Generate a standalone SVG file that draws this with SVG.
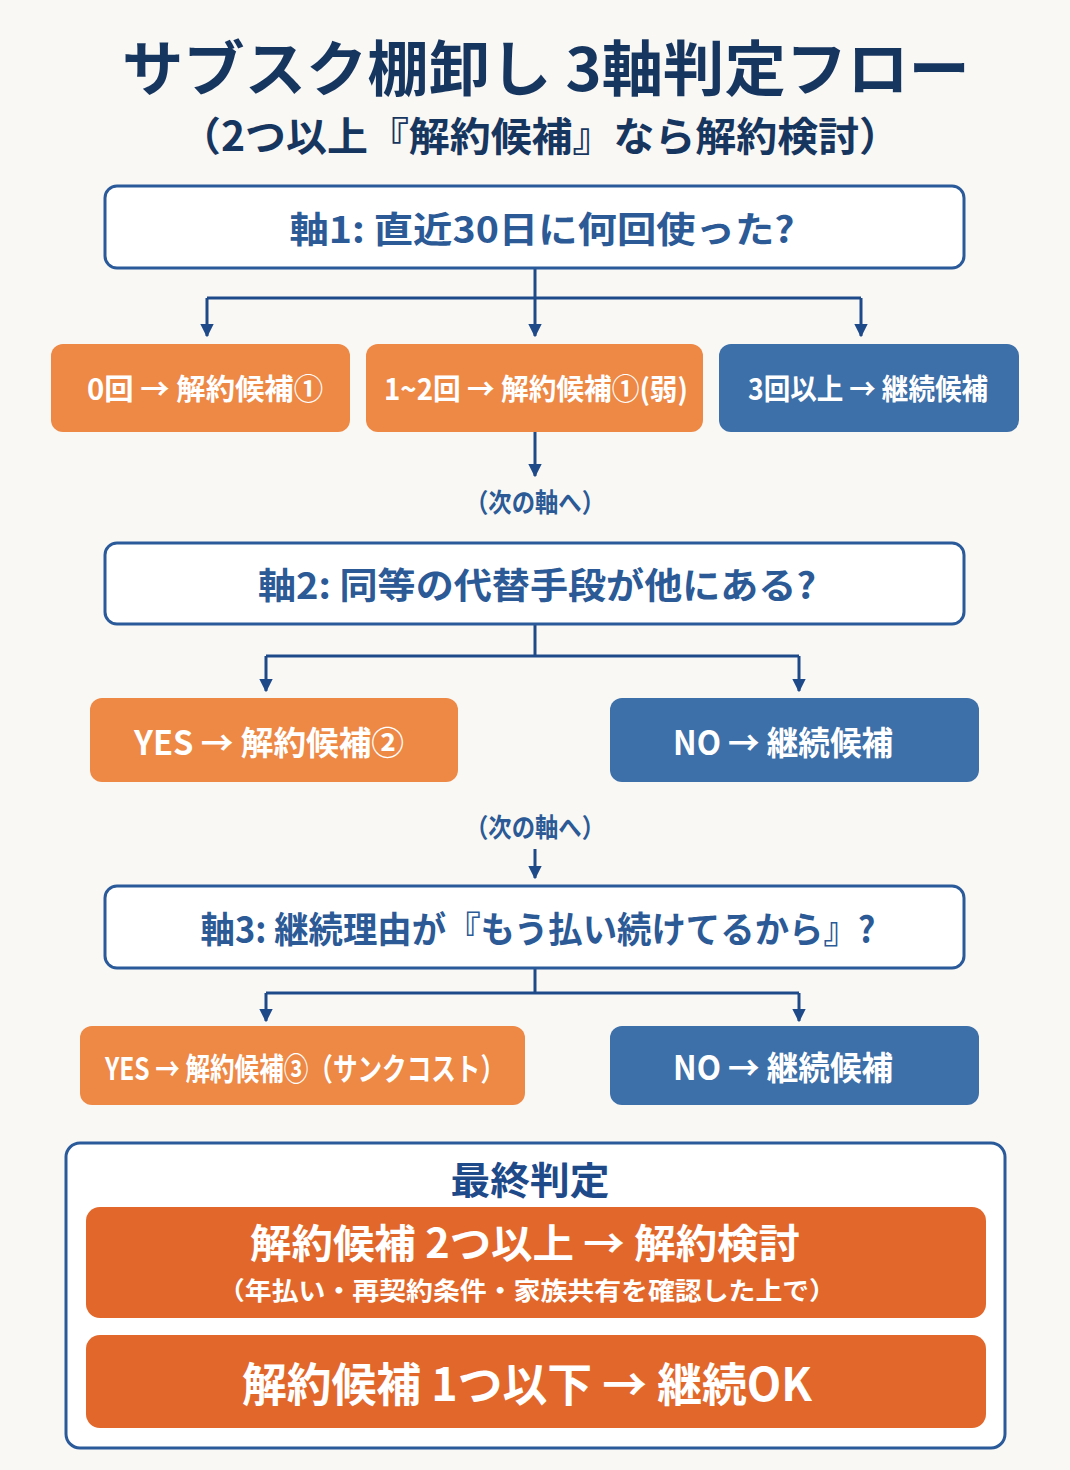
<svg xmlns="http://www.w3.org/2000/svg" width="1070" height="1470" viewBox="0 0 1070 1470">
<defs>
<marker id="ah" viewBox="0 0 10 10" refX="9" refY="5" markerWidth="4.5" markerHeight="4.5" markerUnits="strokeWidth" orient="auto">
<path d="M0,0 L10,5 L0,10 Z" fill="#1e4a8a"/>
</marker>
<style>
text{font-family:"Noto Sans CJK JP","Noto Sans",sans-serif;font-weight:bold;text-anchor:middle;dominant-baseline:central}
.title{fill:#17365f;font-size:60px}
.sub{fill:#17365f;font-size:40px}
.q{fill:#fff;stroke:#2a5a9a;stroke-width:3}
.qt{fill:#2b5a96;font-size:36px}
.or{fill:#ee8845}
.bl{fill:#3d6fa8}
.fo{fill:#e2672a}
.wt{fill:#fff}
.nx{fill:#2b5a96;font-size:26px}
.con path{fill:none;stroke:#1e4a8a;stroke-width:3}
</style>
</defs>
<rect width="1070" height="1470" fill="#f9f8f5"/>
<g id="title">
<text class="title" x="546" y="64" textLength="848" lengthAdjust="spacingAndGlyphs">サブスク棚卸し 3軸判定フロー</text>
<text class="sub" x="540" y="134" textLength="720" lengthAdjust="spacingAndGlyphs">（2つ以上『解約候補』なら解約検討）</text>
</g>
<g class="con" id="connectors">
<path d="M535,268 V298"/>
<path d="M207,298 H861"/>
<path d="M207,298 V336" marker-end="url(#ah)"/>
<path d="M535,298 V336" marker-end="url(#ah)"/>
<path d="M861,298 V336" marker-end="url(#ah)"/>
<path d="M535,432 V476" marker-end="url(#ah)"/>
<path d="M535,624 V656 M266,656 H799"/>
<path d="M266,656 V691" marker-end="url(#ah)"/>
<path d="M799,656 V691" marker-end="url(#ah)"/>
<path d="M535,849 V878" marker-end="url(#ah)"/>
<path d="M535,968 V993 M266,993 H799"/>
<path d="M266,993 V1021" marker-end="url(#ah)"/>
<path d="M799,993 V1021" marker-end="url(#ah)"/>
</g>
<g id="q1">
<rect class="q" x="105" y="186" width="859" height="82" rx="12"/>
<text class="qt" x="542" y="227" textLength="505" lengthAdjust="spacingAndGlyphs">軸1: 直近30日に何回使った?</text>
</g>
<g id="r1a">
<rect class="or" x="51" y="344" width="299" height="88" rx="12"/>
<text class="wt" x="205" y="387" font-size="29" textLength="236" lengthAdjust="spacingAndGlyphs">0回 → 解約候補①</text>
</g>
<g id="r1b">
<rect class="or" x="366" y="344" width="337" height="88" rx="12"/>
<text class="wt" x="536" y="387" font-size="29" textLength="304" lengthAdjust="spacingAndGlyphs">1~2回 → 解約候補①(弱)</text>
</g>
<g id="r1c">
<rect class="bl" x="719" y="344" width="300" height="88" rx="12"/>
<text class="wt" x="868" y="387" font-size="29" textLength="240" lengthAdjust="spacingAndGlyphs">3回以上 → 継続候補</text>
</g>
<g id="next1">
<text class="nx" x="535" y="500" textLength="140" lengthAdjust="spacingAndGlyphs">（次の軸へ）</text>
</g>
<g id="q2">
<rect class="q" x="105" y="543" width="859" height="81" rx="12"/>
<text class="qt" x="537" y="583" textLength="558" lengthAdjust="spacingAndGlyphs">軸2: 同等の代替手段が他にある?</text>
</g>
<g id="r2a">
<rect class="or" x="90" y="698" width="368" height="84" rx="12"/>
<text class="wt" x="269" y="741" font-size="33" textLength="270" lengthAdjust="spacingAndGlyphs">YES → 解約候補②</text>
</g>
<g id="r2b">
<rect class="bl" x="610" y="698" width="369" height="84" rx="12"/>
<text class="wt" x="783" y="741" font-size="33" textLength="220" lengthAdjust="spacingAndGlyphs">NO → 継続候補</text>
</g>
<g id="next2">
<text class="nx" x="535" y="825" textLength="140" lengthAdjust="spacingAndGlyphs">（次の軸へ）</text>
</g>
<g id="q3">
<rect class="q" x="105" y="886" width="859" height="82" rx="12"/>
<text class="qt" x="538" y="927" textLength="675" lengthAdjust="spacingAndGlyphs">軸3: 継続理由が『もう払い続けてるから』?</text>
</g>
<g id="r3a">
<rect class="or" x="80" y="1026" width="445" height="79" rx="12"/>
<text class="wt" x="305" y="1066" font-size="31" textLength="400" lengthAdjust="spacingAndGlyphs">YES → 解約候補③（サンクコスト）</text>
</g>
<g id="r3b">
<rect class="bl" x="610" y="1026" width="369" height="79" rx="12"/>
<text class="wt" x="783" y="1066" font-size="33" textLength="220" lengthAdjust="spacingAndGlyphs">NO → 継続候補</text>
</g>
<g id="final">
<rect class="q" x="66" y="1143" width="939" height="305" rx="14"/>
<text x="530" y="1177" font-size="38" fill="#1e4a8a" textLength="159" lengthAdjust="spacingAndGlyphs">最終判定</text>
</g>
<g id="f1">
<rect class="fo" x="86" y="1207" width="900" height="111" rx="14"/>
<text class="wt" x="525" y="1241" font-size="40" textLength="550" lengthAdjust="spacingAndGlyphs">解約候補 2つ以上 → 解約検討</text>
<text class="wt" x="527" y="1289" font-size="25" textLength="618" lengthAdjust="spacingAndGlyphs">（年払い・再契約条件・家族共有を確認した上で）</text>
</g>
<g id="f2">
<rect class="fo" x="86" y="1335" width="900" height="93" rx="14"/>
<text class="wt" x="527" y="1381" font-size="46" textLength="570" lengthAdjust="spacingAndGlyphs">解約候補 1つ以下 → 継続OK</text>
</g>
</svg>
